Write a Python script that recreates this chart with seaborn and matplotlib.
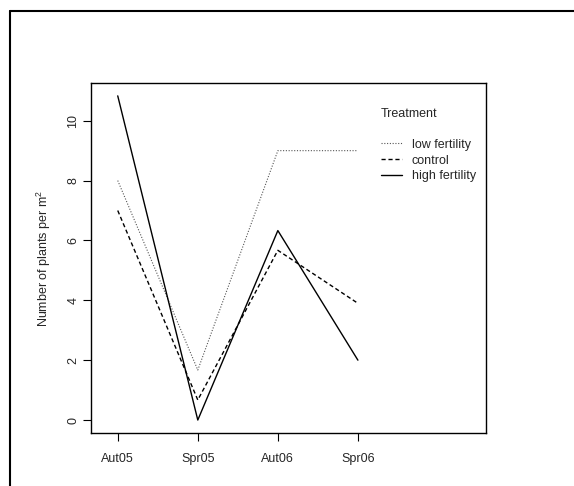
import matplotlib
matplotlib.use("Agg")
import matplotlib.pyplot as plt
import seaborn as sns
import pandas as pd
from matplotlib.lines import Line2D

periods = ["Aut05", "Spr05", "Aut06", "Spr06"]
treatments = ["low fertility", "control", "high fertility"]
low_fertility = [8.0, 1.67, 9.0, 9.0]
control = [7.0, 0.67, 5.67, 3.9]
high_fertility = [10.83, 0.0, 6.33, 2.0]
yticks = [0, 2, 4, 6, 8, 10]

rows = []
for t, vals in zip(treatments, [low_fertility, control, high_fertility]):
    for p, v in zip(periods, vals):
        rows.append({"period": p, "Treatment": t, "value": v})
df = pd.DataFrame(rows)

sns.set_theme(style="ticks")
plt.rcParams["font.family"] = ["Liberation Sans", "DejaVu Sans"]
plt.rcParams["mathtext.fontset"] = "custom"
plt.rcParams["mathtext.rm"] = "Liberation Sans"

fig = plt.figure(figsize=(5.74, 4.86), dpi=100)
ax = fig.add_axes([91/574, (486-433)/486, (486-91)/574, (433-83)/486])

dashes = {"low fertility": (1, 1.5), "control": (3, 2), "high fertility": ""}
sns.lineplot(data=df, x="period", y="value", hue="Treatment", style="Treatment",
             palette={t: "black" for t in treatments}, dashes=dashes,
             sort=False, linewidth=1.0, ax=ax, legend=False)
for ln, lw, c in zip(ax.get_lines(), [0.8, 1.0, 1.0], ["#555555", "black", "black"]):
    ln.set_linewidth(lw)
    ln.set_color(c)

ax.set_xlim(-0.334, 4.6)
ax.set_ylim(-0.433, 11.26)
ax.set_xticks(range(len(periods)))
ax.set_xticklabels(periods, fontsize=9)
ax.set_yticks(yticks)
ax.set_yticklabels([str(v) for v in yticks], fontsize=9, rotation=90, va="center")
ax.tick_params(axis="both", length=5.5, width=0.8, color="black")
ax.tick_params(axis="x", pad=9)
ax.tick_params(axis="y", pad=3)
for s in ax.spines.values():
    s.set_linewidth(1.0)
    s.set_color("black")
ax.set_xlabel("")
ax.set_ylabel(r"Number of plants per m$^{2}$", fontsize=9, labelpad=10)

handles = [
    Line2D([], [], color="#555555", lw=0.8, linestyle=(0, (1, 1.5))),
    Line2D([], [], color="black", lw=1.0, linestyle=(0, (3, 2))),
    Line2D([], [], color="black", lw=1.0, linestyle="-"),
]
ax.text(381/574, 1 - 114/486, "Treatment", transform=fig.transFigure,
        fontsize=9, va="center", ha="left")
leg = ax.legend(handles, treatments, loc="upper left", frameon=False,
                bbox_to_anchor=(377/574, 1 - 135/486), bbox_transform=fig.transFigure,
                fontsize=9, handlelength=1.7, handletextpad=0.8, labelspacing=0.3,
                borderaxespad=0, borderpad=0.3)

fig.add_artist(Line2D([10/574, 1.0], [1 - 11/486, 1 - 11/486], transform=fig.transFigure,
                      color="black", lw=1.5))
fig.add_artist(Line2D([10/574, 10/574], [0, 1 - 11/486], transform=fig.transFigure,
                      color="black", lw=1.5))

fig.savefig("out.png", dpi=100)
